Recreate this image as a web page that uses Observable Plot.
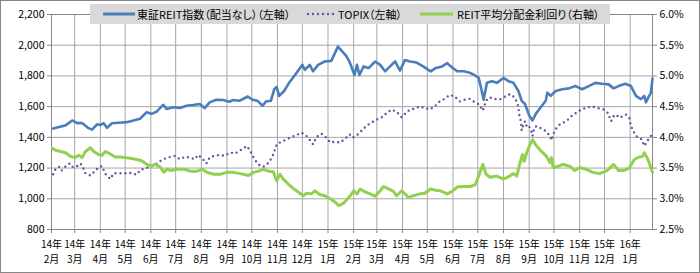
<!DOCTYPE html>
<html><head><meta charset="utf-8">
<script src="https://cdn.jsdelivr.net/npm/d3@7"></script>
<script src="https://cdn.jsdelivr.net/npm/@observablehq/plot@0.6"></script>
<style>
body{margin:0;background:#fff;}
#wrap{position:relative;width:700px;height:273px;overflow:hidden;background:#fff;}
#chart{position:absolute;left:0;top:0;}
#border{position:absolute;left:0;top:0;width:700px;height:273px;box-sizing:border-box;border:1px solid #868686;pointer-events:none;}
#legend{position:absolute;left:90px;top:4px;width:520px;height:20px;background:#d9d9d9;font-family:"Noto Sans CJK JP",sans-serif;font-size:11px;font-feature-settings:"palt";color:#000;}
#legend svg{position:absolute;top:0;left:0;}
#legend .tx{position:absolute;top:2px;line-height:16px;white-space:nowrap;}
</style>
</head><body>
<div id="wrap"><div id="chart"></div>
<div id="legend">
<svg width="520" height="20">
<line x1="13" x2="45" y1="10" y2="10" stroke="#4a7ebb" stroke-width="3"/>
<line x1="218" x2="244" y1="10" y2="10" stroke="#7050a0" stroke-width="2.4" stroke-dasharray="0,5" stroke-linecap="round"/>
<line x1="330" x2="363" y1="10" y2="10" stroke="#92d050" stroke-width="3"/>
</svg>
<div class="tx" style="left:47px" id="l1"></div>
<div class="tx" style="left:248px" id="l2"></div>
<div class="tx" style="left:367px" id="l3"></div>
</div>
<div id="border"></div></div>
<script>
const seriesNames = ["東証REIT指数（配当なし）（左軸）", "TOPIX（左軸）", "REIT平均分配金利回り（右軸）"];

const reitDates = ["2014-02-03","2014-02-10","2014-02-18","2014-02-26","2014-03-04","2014-03-10","2014-03-17","2014-03-22","2014-03-28","2014-04-01","2014-04-05","2014-04-09","2014-04-15","2014-04-23","2014-05-03","2014-05-11","2014-05-19","2014-05-27","2014-06-02","2014-06-08","2014-06-16","2014-06-20","2014-06-28","2014-07-06","2014-07-14","2014-07-22","2014-07-30","2014-08-05","2014-08-11","2014-08-19","2014-08-27","2014-09-04","2014-09-08","2014-09-16","2014-09-26","2014-10-02","2014-10-08","2014-10-14","2014-10-18","2014-10-24","2014-10-28","2014-10-31","2014-11-03","2014-11-09","2014-11-15","2014-11-21","2014-12-01","2014-12-04","2014-12-10","2014-12-14","2014-12-20","2014-12-28","2015-01-05","2015-01-13","2015-01-19","2015-01-23","2015-01-27","2015-02-02","2015-02-05","2015-02-08","2015-02-13","2015-02-19","2015-02-27","2015-03-05","2015-03-11","2015-03-17","2015-03-23","2015-03-29","2015-04-04","2015-04-10","2015-04-18","2015-04-26","2015-05-05","2015-05-11","2015-05-19","2015-05-25","2015-05-31","2015-06-06","2015-06-14","2015-06-20","2015-06-26","2015-07-02","2015-07-05","2015-07-08","2015-07-12","2015-07-18","2015-07-24","2015-08-01","2015-08-07","2015-08-13","2015-08-19","2015-08-23","2015-08-27","2015-09-01","2015-09-05","2015-09-09","2015-09-15","2015-09-21","2015-09-23","2015-09-27","2015-10-03","2015-10-11","2015-10-19","2015-10-27","2015-11-04","2015-11-12","2015-11-20","2015-11-28","2015-12-06","2015-12-12","2015-12-18","2015-12-26","2016-01-02","2016-01-08","2016-01-14","2016-01-18","2016-01-20","2016-01-23","2016-01-26","2016-01-28"];
const reitValues = [1457,1467,1478,1510,1493,1493,1462,1450,1485,1480,1492,1462,1492,1495,1499,1510,1521,1564,1553,1568,1611,1585,1596,1591,1606,1611,1617,1591,1628,1645,1643,1632,1643,1638,1666,1645,1638,1606,1634,1638,1713,1728,1670,1702,1755,1798,1872,1840,1872,1830,1872,1894,1898,1991,1955,1930,1892,1806,1872,1806,1862,1851,1894,1872,1830,1862,1894,1835,1904,1894,1887,1862,1830,1851,1862,1883,1855,1830,1830,1823,1809,1787,1720,1645,1755,1766,1755,1787,1766,1755,1702,1638,1617,1543,1510,1553,1596,1638,1691,1670,1702,1713,1719,1734,1713,1734,1755,1749,1745,1719,1734,1749,1734,1670,1649,1670,1628,1660,1690,1783];

const topixDates = ["2014-02-03","2014-02-05","2014-02-10","2014-02-13","2014-02-19","2014-02-23","2014-02-27","2014-03-04","2014-03-08","2014-03-11","2014-03-14","2014-03-20","2014-03-24","2014-03-30","2014-04-03","2014-04-07","2014-04-11","2014-04-13","2014-04-17","2014-04-21","2014-04-25","2014-05-01","2014-05-05","2014-05-11","2014-05-15","2014-05-19","2014-05-25","2014-05-29","2014-06-04","2014-06-10","2014-06-16","2014-06-22","2014-06-30","2014-07-06","2014-07-12","2014-07-18","2014-07-24","2014-07-28","2014-08-03","2014-08-07","2014-08-11","2014-08-17","2014-08-23","2014-08-29","2014-09-05","2014-09-11","2014-09-17","2014-09-21","2014-09-25","2014-09-29","2014-10-03","2014-10-07","2014-10-11","2014-10-15","2014-10-19","2014-10-23","2014-10-27","2014-10-31","2014-11-06","2014-11-12","2014-11-18","2014-11-24","2014-11-30","2014-12-04","2014-12-08","2014-12-14","2014-12-18","2014-12-24","2014-12-30","2015-01-04","2015-01-09","2015-01-15","2015-01-21","2015-01-27","2015-01-31","2015-02-05","2015-02-11","2015-02-16","2015-02-22","2015-03-01","2015-03-07","2015-03-13","2015-03-19","2015-03-25","2015-03-31","2015-04-05","2015-04-10","2015-04-16","2015-04-22","2015-04-28","2015-05-04","2015-05-10","2015-05-16","2015-05-22","2015-05-28","2015-06-03","2015-06-09","2015-06-15","2015-06-21","2015-06-27","2015-07-03","2015-07-07","2015-07-11","2015-07-15","2015-07-21","2015-07-27","2015-08-03","2015-08-09","2015-08-13","2015-08-17","2015-08-19","2015-08-20","2015-08-22","2015-08-23","2015-08-25","2015-08-27","2015-08-29","2015-08-31","2015-09-03","2015-09-05","2015-09-07","2015-09-10","2015-09-14","2015-09-18","2015-09-22","2015-09-26","2015-09-28","2015-09-30","2015-10-04","2015-10-08","2015-10-12","2015-10-16","2015-10-20","2015-10-24","2015-10-28","2015-11-01","2015-11-05","2015-11-09","2015-11-15","2015-11-21","2015-11-25","2015-11-30","2015-12-05","2015-12-09","2015-12-12","2015-12-15","2015-12-19","2015-12-23","2015-12-27","2015-12-31","2016-01-02","2016-01-05","2016-01-08","2016-01-12","2016-01-15","2016-01-18","2016-01-21","2016-01-23","2016-01-26","2016-01-28"];
const topixValues = [1160,1187,1209,1183,1215,1230,1205,1213,1230,1205,1166,1151,1172,1205,1213,1162,1140,1129,1166,1166,1166,1166,1172,1162,1157,1187,1198,1205,1215,1237,1258,1269,1280,1258,1273,1269,1258,1286,1258,1230,1269,1280,1286,1280,1301,1295,1316,1329,1344,1312,1269,1237,1215,1209,1222,1247,1290,1355,1372,1387,1402,1415,1430,1420,1398,1355,1402,1424,1398,1366,1372,1366,1387,1420,1398,1415,1445,1473,1495,1516,1531,1559,1581,1566,1531,1559,1581,1587,1602,1591,1581,1602,1634,1651,1677,1666,1634,1645,1651,1630,1613,1574,1640,1660,1651,1645,1666,1682,1666,1634,1600,1548,1505,1445,1484,1505,1473,1480,1452,1409,1462,1473,1462,1452,1437,1409,1381,1420,1462,1484,1495,1505,1527,1548,1559,1574,1587,1591,1602,1595,1587,1581,1559,1505,1538,1548,1527,1538,1548,1527,1473,1441,1409,1398,1387,1344,1366,1387,1409,1430];

const yieldDates = ["2014-02-02","2014-02-06","2014-02-12","2014-02-18","2014-02-24","2014-03-01","2014-03-06","2014-03-10","2014-03-14","2014-03-20","2014-03-24","2014-03-30","2014-04-03","2014-04-07","2014-04-13","2014-04-19","2014-04-25","2014-05-01","2014-05-07","2014-05-15","2014-05-21","2014-05-27","2014-06-01","2014-06-06","2014-06-12","2014-06-17","2014-06-20","2014-06-26","2014-07-03","2014-07-11","2014-07-19","2014-07-27","2014-08-02","2014-08-08","2014-08-16","2014-08-24","2014-09-01","2014-09-09","2014-09-17","2014-09-27","2014-10-03","2014-10-09","2014-10-15","2014-10-21","2014-10-27","2014-10-31","2014-11-04","2014-11-08","2014-11-14","2014-11-20","2014-11-26","2014-12-02","2014-12-06","2014-12-12","2014-12-16","2014-12-22","2014-12-28","2015-01-04","2015-01-10","2015-01-14","2015-01-20","2015-01-26","2015-01-28","2015-02-01","2015-02-05","2015-02-09","2015-02-15","2015-02-21","2015-02-27","2015-03-05","2015-03-09","2015-03-15","2015-03-21","2015-03-25","2015-03-31","2015-04-04","2015-04-08","2015-04-14","2015-04-22","2015-04-28","2015-05-05","2015-05-11","2015-05-17","2015-05-25","2015-05-31","2015-06-06","2015-06-14","2015-06-22","2015-06-28","2015-07-02","2015-07-07","2015-07-11","2015-07-16","2015-07-24","2015-08-01","2015-08-07","2015-08-13","2015-08-17","2015-08-21","2015-08-24","2015-08-26","2015-08-29","2015-09-02","2015-09-05","2015-09-10","2015-09-16","2015-09-22","2015-09-26","2015-09-28","2015-09-30","2015-10-06","2015-10-12","2015-10-20","2015-10-26","2015-11-01","2015-11-09","2015-11-17","2015-11-25","2015-12-04","2015-12-12","2015-12-18","2015-12-24","2015-12-31","2016-01-06","2016-01-12","2016-01-16","2016-01-18","2016-01-21","2016-01-24","2016-01-26","2016-01-28"];
const yieldValues = [3.82,3.79,3.77,3.75,3.69,3.67,3.71,3.67,3.77,3.83,3.77,3.72,3.71,3.77,3.73,3.68,3.68,3.67,3.66,3.64,3.62,3.56,3.53,3.56,3.52,3.43,3.48,3.46,3.48,3.48,3.45,3.45,3.48,3.43,3.40,3.40,3.43,3.43,3.41,3.38,3.43,3.45,3.48,3.45,3.44,3.29,3.40,3.32,3.24,3.17,3.11,3.05,3.09,3.08,3.13,3.07,3.05,3.00,2.94,2.89,2.93,3.02,3.05,3.13,3.08,3.16,3.11,3.08,3.04,3.13,3.20,3.16,3.12,3.05,3.13,3.08,3.02,3.05,3.08,3.09,3.16,3.14,3.13,3.08,3.12,3.19,3.20,3.20,3.23,3.37,3.56,3.40,3.35,3.37,3.32,3.36,3.41,3.37,3.59,3.72,3.61,3.75,3.88,3.96,3.86,3.77,3.69,3.59,3.67,3.51,3.53,3.56,3.53,3.46,3.51,3.48,3.43,3.41,3.46,3.56,3.46,3.46,3.50,3.64,3.68,3.69,3.75,3.68,3.59,3.50,3.43];

const leftTicks = [800,1000,1200,1400,1600,1800,2000,2200];
const leftLabels = ["800","1,000","1,200","1,400","1,600","1,800","2,000","2,200"];
const rightTicks = [2.5,3.0,3.5,4.0,4.5,5.0,5.5,6.0];
const rightLabels = ["2.5%","3.0%","3.5%","4.0%","4.5%","5.0%","5.5%","6.0%"];
const xDomain = ["2014-02-01","2016-01-28"];

const parse = d3.utcParse("%Y-%m-%d");
const reit = reitDates.map((d,i)=>({date:parse(d), value:reitValues[i]}));
const topix = topixDates.map((d,i)=>({date:parse(d), value:topixValues[i]}));
const yld = yieldDates.map((d,i)=>({date:parse(d), value:yieldValues[i]}));

// secondary axis mapped onto primary domain
const r0 = rightTicks[0], r1 = rightTicks[rightTicks.length-1];
const l0 = leftTicks[0], l1 = leftTicks[leftTicks.length-1];
const toLeft = p => l0 + (p - r0) / (r1 - r0) * (l1 - l0);
const rightPos = rightTicks.map(toLeft);

const x0 = parse(xDomain[0]), x1 = parse(xDomain[1]);
const monthTicks = d3.utcMonth.range(x0, d3.utcMonth.offset(x1, 1)).filter(d => d <= x1);
const fmtTick = d => `${String(d.getUTCFullYear()).slice(2)}年\n${d.getUTCMonth()+1}月`;

const grid = "#a6a6a6", axisCol = "#868686";
const chart = Plot.plot({
  width:700, height:273,
  marginLeft:51, marginRight:48, marginTop:14, marginBottom:44,
  style:{fontFamily:'"Noto Sans CJK JP", sans-serif', fontSize:"10.5px", color:"#000", background:"transparent"},
  x:{type:"utc", domain:[x0, x1]},
  y:{domain:[l0, l1]},
  marks:[
    Plot.gridX(monthTicks, {stroke:grid, strokeOpacity:1}),
    Plot.gridY(leftTicks, {stroke:grid, strokeOpacity:1}),
    Plot.frame({stroke:axisCol}),
    Plot.line(reit, {x:"date", y:"value", stroke:"#4a7ebb", strokeWidth:2.6}),
    Plot.line(topix, {x:"date", y:"value", stroke:"#7050a0", strokeWidth:2.4, strokeDasharray:"0,5", strokeLinecap:"round"}),
    Plot.line(yld, {x:"date", y:d=>toLeft(d.value), stroke:"#92d050", strokeWidth:3}),
    Plot.axisY(leftTicks, {anchor:"left", tickFormat:d=>leftLabels[leftTicks.indexOf(d)], tickSize:4, tickPadding:3, label:null, stroke:axisCol}),
    Plot.axisY(rightPos, {anchor:"right", tickFormat:d=>rightLabels[rightPos.indexOf(d)], tickSize:4, tickPadding:3, label:null, stroke:axisCol}),
    Plot.axisX(monthTicks, {tickFormat:fmtTick, tickSize:4, tickPadding:3, label:null, stroke:axisCol, lineHeight:1.55, fontSize:10})
  ]
});
document.getElementById("chart").appendChild(chart);
document.getElementById("l1").textContent = seriesNames[0];
document.getElementById("l2").textContent = seriesNames[1];
document.getElementById("l3").textContent = seriesNames[2];
</script>
</body></html>
